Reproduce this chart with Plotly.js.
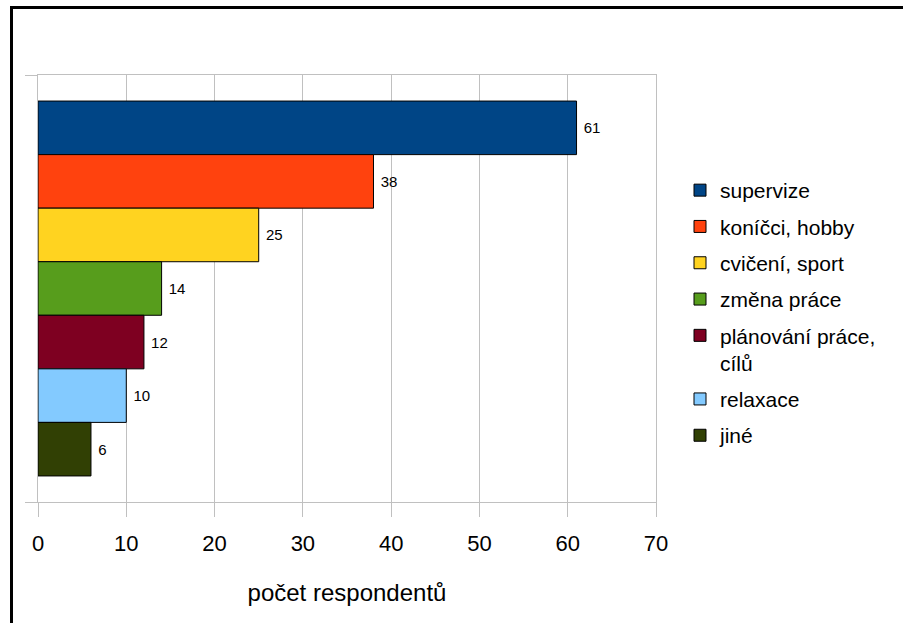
<!DOCTYPE html>
<html>
<head>
<meta charset="utf-8">
<script src="https://cdn.plot.ly/plotly-3.0.1.min.js"></script>
<style>
  html, body { margin: 0; padding: 0; background: #fff; }
  #wrap { position: relative; width: 903px; height: 623px; overflow: hidden; }
  #chart { position: absolute; left: 0; top: 0; width: 903px; height: 623px; }
  #frame {
    position: absolute; left: 10px; top: 6px; right: -10px; bottom: -10px;
    border-top: 3px solid #000; border-left: 3px solid #000;
    pointer-events: none;
  }
</style>
</head>
<body>
<div id="wrap">
  <div id="chart"></div>
  <div id="frame"></div>
</div>
<script>
// Responses: what helps respondents (number of respondents per answer)
const categories = [
  "supervize",
  "koníčci, hobby",
  "cvičení, sport",
  "změna práce",
  "plánování práce,<br>cílů",
  "relaxace",
  "jiné"
];
const values = [61, 38, 25, 14, 12, 10, 6];
const colors = ["#004586", "#ff420e", "#ffd320", "#579d1c", "#7e0021", "#83caff", "#314004"];
const xTicks = [0, 10, 20, 30, 40, 50, 60, 70];
const xTitle = "počet respondentů";

const FONT = "Liberation Sans, Arial, sans-serif";
const GRID = "#c0c0c0";

const traces = categories.map((name, i) => ({
  type: "bar",
  orientation: "h",
  name: name,
  legendgroup: "g" + i,
  x: [values[i]],
  y: [0],
  marker: { color: colors[i], line: { color: "#000", width: 1 } },
  text: [values[i]],
  texttemplate: "\u00a0%{x}",
  textposition: "outside",
  textfont: { family: FONT, size: 15, color: "#000" },
  cliponaxis: false,
  hoverinfo: "skip"
}));

const layout = {
  width: 903,
  height: 623,
  paper_bgcolor: "#fff",
  plot_bgcolor: "#fff",
  margin: { l: 38, r: 247, t: 75, b: 121 },
  barmode: "group",
  bargap: 0.122,
  bargroupgap: 0,
  font: { family: FONT, color: "#000" },
  showlegend: true,
  legend: {
    xref: "container", yref: "container",
    x: 680 / 903, y: 1 - 170 / 623,
    xanchor: "left", yanchor: "top",
    valign: "top",
    font: { family: FONT, size: 21, color: "#000" },
    tracegroupgap: 6,
    itemwidth: 30,
    bgcolor: "rgba(0,0,0,0)"
  },
  xaxis: {
    range: [0, 70],
    tickvals: xTicks,
    ticktext: xTicks.map(String),
    ticks: "outside",
    ticklen: 14,
    tickwidth: 1,
    tickcolor: GRID,
    ticklabelstandoff: 8,
    showgrid: true,
    gridcolor: GRID,
    gridwidth: 1,
    zeroline: false,
    showline: true,
    linecolor: GRID,
    linewidth: 1,
    mirror: true,
    tickfont: { family: FONT, size: 22, color: "#000" },
    title: { text: xTitle, font: { family: FONT, size: 24, color: "#000" }, standoff: 28 },
    fixedrange: true
  },
  yaxis: {
    range: [0.5, -0.5],
    tickvals: [-0.5, 0.5],
    showticklabels: false,
    ticks: "outside",
    ticklen: 12,
    tickwidth: 1,
    tickcolor: GRID,
    showgrid: false,
    zeroline: false,
    showline: true,
    linecolor: GRID,
    linewidth: 1,
    mirror: true,
    fixedrange: true
  }
};

Plotly.newPlot("chart", traces, layout, { displayModeBar: false, staticPlot: true });
</script>
</body>
</html>
